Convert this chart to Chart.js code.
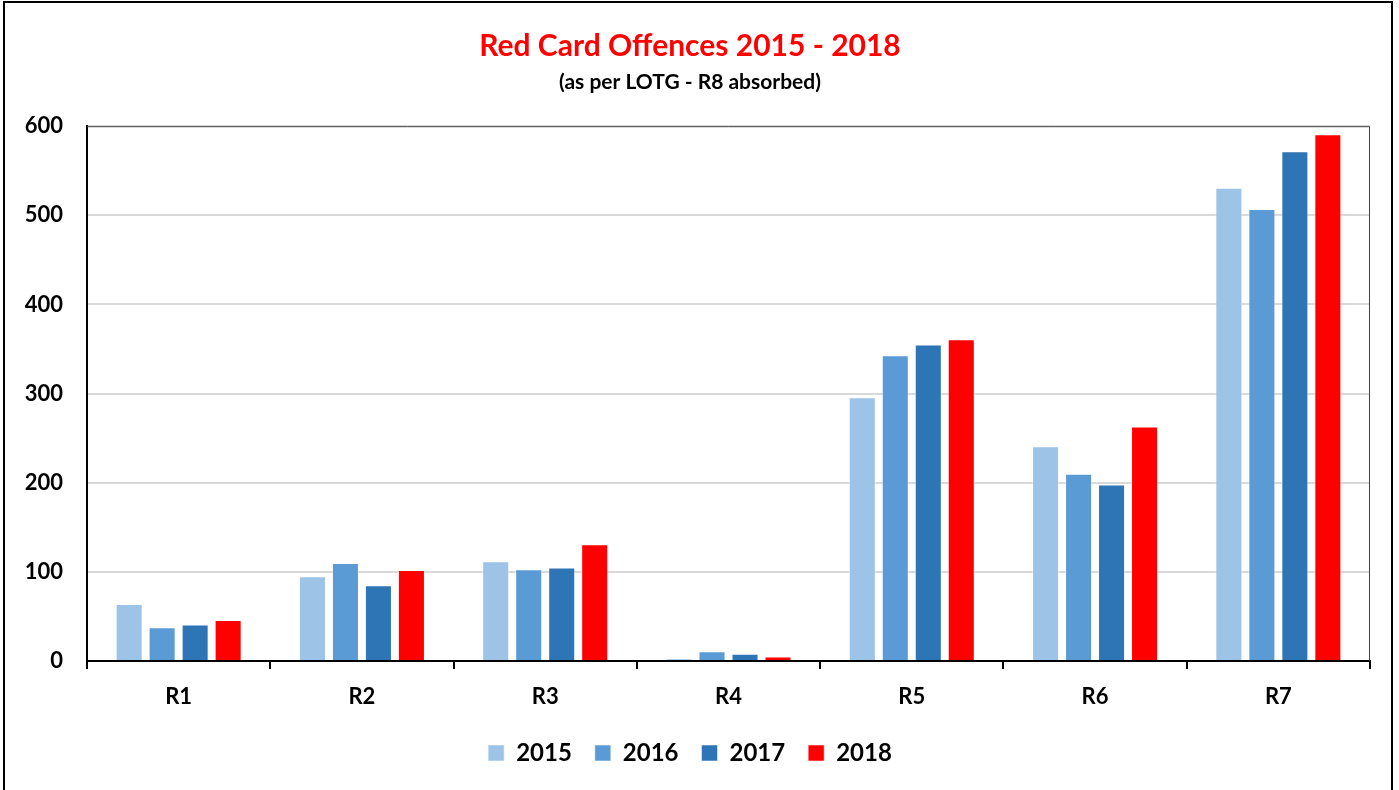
<!DOCTYPE html>
<html>
<head>
<meta charset="utf-8">
<script src="https://cdn.jsdelivr.net/npm/chart.js@4"></script>
<style>
  html, body { margin: 0; padding: 0; background: #fff; }
  #wrap { position: relative; width: 1399px; height: 790px; }
  #frame { position: absolute; left: 3px; top: 1px; width: 1390px; height: 795px; border: 2px solid #000; box-sizing: border-box; pointer-events: none; }
</style>
</head>
<body>
<div id="wrap">
  <canvas id="chart" width="1399" height="790"></canvas>
  <div id="frame"></div>
</div>
<script>
const categories = ['R1', 'R2', 'R3', 'R4', 'R5', 'R6', 'R7'];
const years = ['2015', '2016', '2017', '2018'];
const values2015 = [64, 95, 112, 3, 296, 241, 531];
const values2016 = [38, 110, 103, 11, 343, 210, 507];
const values2017 = [41, 85, 105, 8, 355, 198, 572];
const values2018 = [46, 102, 131, 5, 361, 263, 591];
const colours = ['#9DC3E6', '#5B9BD5', '#2E75B6', '#FF0000'];

const font = 'Lato, "Open Sans", sans-serif';

// box around the plot area, like the Excel original
const plotBorder = {
  id: 'plotBorder',
  afterDraw(chart) {
    const { ctx, chartArea: a } = chart;
    ctx.save();
    ctx.strokeStyle = '#404040';
    ctx.lineWidth = 1;
    ctx.beginPath();
    ctx.moveTo(a.left, a.top + 0.5);
    ctx.lineTo(a.right - 0.5, a.top + 0.5);
    ctx.lineTo(a.right - 0.5, a.bottom);
    ctx.stroke();
    ctx.restore();
  }
};

new Chart(document.getElementById('chart').getContext('2d'), {
  type: 'bar',
  data: {
    labels: categories,
    datasets: [values2015, values2016, values2017, values2018].map((d, i) => ({
      label: years[i],
      data: d,
      backgroundColor: colours[i],
      borderColor: 'rgba(255,255,255,0.5)',
      borderWidth: 1,
      categoryPercentage: 0.72,
      barPercentage: 0.82
    }))
  },
  plugins: [plotBorder],
  options: {
    responsive: false,
    animation: false,
    layout: { padding: { left: 10, right: 29, top: 28, bottom: 15 } },
    plugins: {
      title: {
        display: true,
        text: 'Red Card Offences 2015 - 2018',
        color: '#FF0000',
        font: { family: font, size: 30, weight: 'bold' },
        padding: { top: 0, bottom: 6 }
      },
      subtitle: {
        display: true,
        text: '(as per LOTG - R8 absorbed)',
        color: '#000',
        font: { family: font, size: 21, weight: 'bold' },
        padding: { top: 0, bottom: 31 }
      },
      legend: {
        position: 'bottom',
        labels: {
          color: '#000',
          font: { family: font, size: 24, weight: 'bold' },
          boxWidth: 16,
          boxHeight: 16,
          padding: 23
        }
      },
      tooltip: { enabled: false }
    },
    scales: {
      x: {
        grid: { display: true, drawOnChartArea: false, offset: true, color: '#000', tickLength: 8, lineWidth: 2 },
        border: { color: '#000', width: 2 },
        ticks: { color: '#000', font: { family: font, size: 22, weight: 'bold' }, padding: 15 },
        afterFit(s) { s.height = 57; }
      },
      y: {
        min: 0,
        max: 600,
        ticks: { stepSize: 100, color: '#000', font: { family: font, size: 22, weight: 'bold' }, padding: 24 },
        grid: { color: '#D9D9D9', lineWidth: 2, drawTicks: false },
        border: { color: '#000', width: 2 },
        afterFit(s) { s.width = 77; }
      }
    }
  }
});
</script>
</body>
</html>
